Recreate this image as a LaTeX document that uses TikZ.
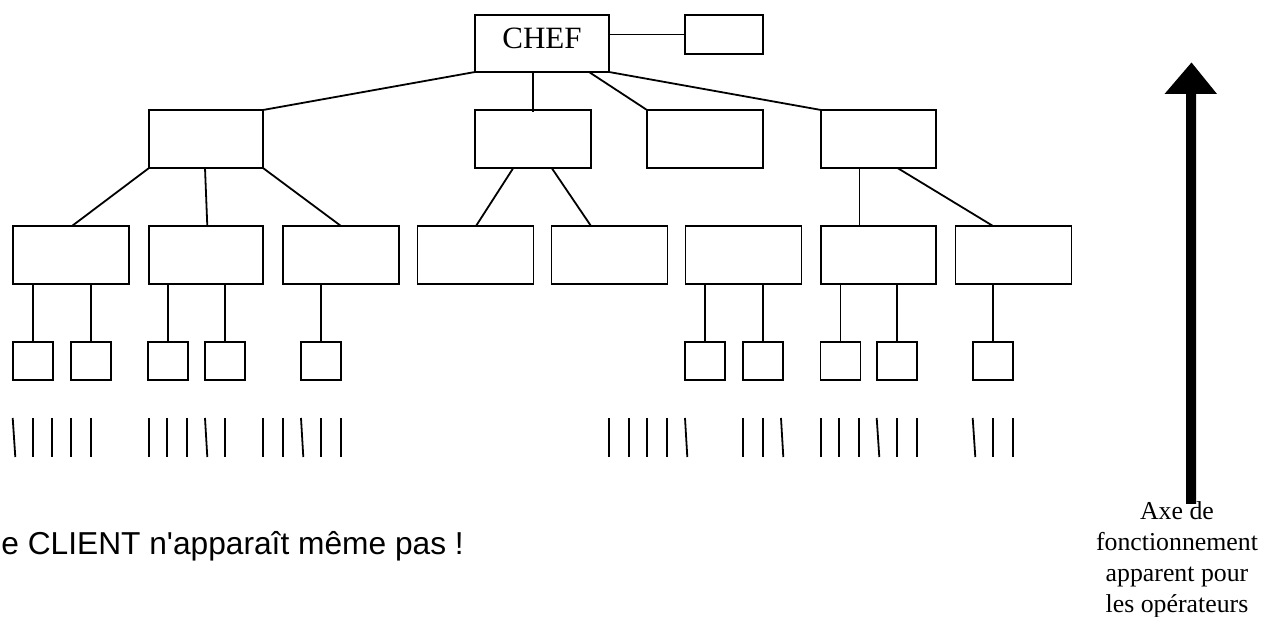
\documentclass[tikz,border=0pt]{standalone}
\usepackage{fontspec}
\setmainfont{Liberation Serif}
\newfontfamily\notefont[Ligatures=TeXOff]{Liberation Sans}
\begin{document}
\begin{tikzpicture}[x=1pt,y=-1pt,line width=1.8pt,
  box/.style={draw,rectangle,inner sep=0pt,outer sep=0pt,minimum width=116pt,minimum height=58pt},
  small/.style={draw,rectangle,inner sep=0pt,outer sep=0pt,minimum width=40pt,minimum height=38pt},
  link/.style={line width=1.8pt},
  tick/.style={line width=1.8pt}]
\useasboundingbox (0,0) rectangle (1278,617);

% top of the hierarchy
\node[box,minimum width=134pt,minimum height=57pt,text depth=11.5pt,
      font=\fontsize{31}{36}\selectfont] (chef) at (542,43.5) {CHEF};
\node[box,minimum width=78pt,minimum height=39pt] (aide) at (724,34.5) {};

% second level
\node[box,minimum width=114pt] (m1) at (206,139) {};
\node[box] (m2) at (533,139) {};
\node[box] (m3) at (705,139) {};
\node[box,minimum width=115pt] (m4) at (878.5,139) {};

% third level
\node[box] (l1) at (71,255) {};
\node[box,minimum width=114pt] (l2) at (206,255) {};
\node[box] (l3) at (341,255) {};
\node[box] (l4) at (475.5,255) {};
\node[box] (l5) at (609.5,255) {};
\node[box] (l6) at (743.5,255) {};
\node[box,minimum width=115pt] (l7) at (878.5,255) {};
\node[box] (l8) at (1013.5,255) {};

% fourth level
\node[small] (s1) at (33,361) {};
\node[small] (s2) at (91,361) {};
\node[small] (s3) at (168,361) {};
\node[small] (s4) at (225.3,361) {};
\node[small] (s5) at (321,361) {};
\node[small] (s6) at (705.3,361) {};
\node[small] (s7) at (763,361) {};
\node[small] (s8) at (840.5,361) {};
\node[small] (s9) at (897.3,361) {};
\node[small] (s10) at (993.2,361) {};

% links from the chief
\draw[link] (aide.west) -- (aide.west -| chef.east);
\draw[link] (chef.south west) -- (m1.north east);
\draw[link] (chef.south -| m2.north) -- ([yshift=-2pt]m2.north);
\draw[link] ([xshift=47pt]chef.south) -- (m3.north west);
\draw[link] (chef.south east) -- (m4.north west);

% links to the third level
\draw[link] (m1.south west) -- ([xshift=1pt]l1.north);
\draw[link] ([xshift=-1pt]m1.south) -- ([xshift=1.3pt]l2.north);
\draw[link] (m1.south east) -- (l3.north);
\draw[link] ([xshift=-19.7pt]m2.south) -- ([xshift=0.5pt]l4.north);
\draw[link] ([xshift=18.7pt]m2.south) -- ([xshift=-18.5pt]l5.north);
\draw[link] ([xshift=-19pt]m4.south) -- ([xshift=-19pt]l7.north);
\draw[link] ([xshift=19pt]m4.south) -- ([xshift=-20.5pt]l8.north);

% links to the fourth level
\foreach \s/\l in {s1/l1,s2/l1,s3/l2,s4/l2,s5/l3,s6/l6,s7/l6,s8/l7,s9/l7,s10/l8}
  \draw[link] (\s.north) -- (\s.north |- \l.south);

% operators
\foreach \a/\b in {12.7/15.3,32.7/32.7,52.3/52.3,70.7/70.7,90.7/90.7,
                   149/149,167.3/167.3,186.7/186.7,205/207.3,225.3/225.3,
                   263.3/263.3,282.7/282.7,301/303.3,321/321,341/341,
                   609/609,629/629,647.3/647.3,667.3/667.3,685/687.3,
                   743.3/743.3,762.7/762.7,781/783.3,
                   821/821,839/839,859.3/859.3,876.7/879.3,897.3/897.3,917.3/917.3,
                   972.7/975.3,993.3/993.3,1013.3/1013.3}
  \draw[tick] (\a,418) -- (\b,457);

% upward axis
\fill (1186,504) -- (1186,94) -- (1164.5,94) -- (1191.5,62.5) -- (1217,94)
      -- (1196,94) -- (1196,504) -- cycle;
\node[font=\fontsize{25.8}{31}\selectfont,align=center,anchor=north,inner sep=0pt]
  (axe) at (1177,501) {Axe de\\fonctionnement\\apparent pour\\les opérateurs};

\node[font=\notefont\fontsize{31.7}{38}\selectfont,anchor=base west,inner sep=0pt]
  (note) at (0.5,554.3) {e CLIENT n'apparaît même pas !};
\end{tikzpicture}
\end{document}
